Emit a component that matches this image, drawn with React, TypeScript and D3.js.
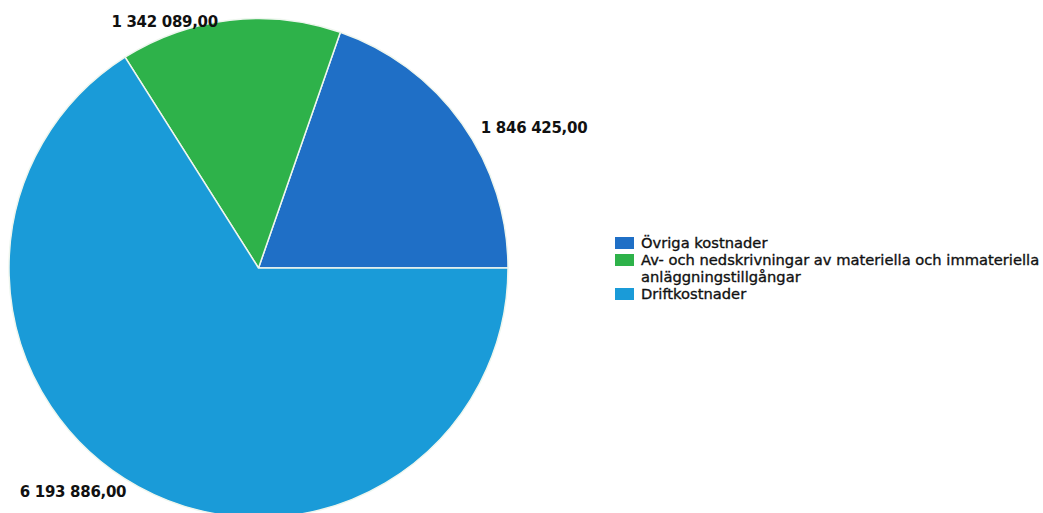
import React from "react";
import * as d3 from "d3";

const categories = [
  "Övriga kostnader",
  "Av- och nedskrivningar av materiella och immateriella anläggningstillgångar",
  "Driftkostnader",
];
const values = [1846425, 1342089, 6193886];
const valueLabels = ["1 846 425,00", "1 342 089,00", "6 193 886,00"];
const legendLines = [
  ["Övriga kostnader"],
  ["Av- och nedskrivningar av materiella och immateriella", "anläggningstillgångar"],
  ["Driftkostnader"],
];
const colors = ["#1f6fc6", "#2eb24a", "#1a9bd8"];

const W = 1043;
const H = 513;
const cx = 258.5;
const cy = 268;
const R = 249.5;

export default function App() {
  const data = categories.map((c, i) => ({ c, v: values[i], i }));
  const pie = d3
    .pie<any>()
    .value((d) => d.v)
    .sort(null)
    .startAngle(Math.PI / 2)
    .endAngle(Math.PI / 2 - 2 * Math.PI);
  const arcs = pie(data);
  const arc = d3.arc<any>().innerRadius(0).outerRadius(R);

  const font = "'DejaVu Sans', Verdana, sans-serif";

  let legendRow = 0;
  const rowH = 17;
  const legendTop = 248;

  return (
    <svg
      width={W}
      height={H}
      style={{ position: "absolute", left: 0, top: 0, background: "#fff" }}
    >
      <g transform={`translate(${cx},${cy})`}>
        {arcs.map((a, i) => (
          <path
            key={i}
            d={arc(a) || ""}
            fill={colors[i]}
            stroke="#eef6ee"
            strokeWidth={1.5}
            strokeLinejoin="round"
          />
        ))}
        {arcs.map((a, i) => {
          const mid = (a.startAngle + a.endAngle) / 2;
          const px = Math.sin(mid) * R;
          const py = -Math.cos(mid) * R;
          const right = px > 0;
          return (
            <text
              key={"l" + i}
              x={right ? px + 19 : px - 12}
              y={py + (i === 1 ? 7 : 10)}
              textAnchor={right ? "start" : "end"}
              fontFamily={font}
              fontWeight="bold"
              fontSize={15}
              letterSpacing={-0.3}
              fill="#111"
            >
              {valueLabels[i]}
            </text>
          );
        })}
      </g>
      <g>
        {legendLines.map((lines, i) => {
          const y0 = legendTop + legendRow * rowH;
          legendRow += lines.length;
          return (
            <g key={"lg" + i}>
              <rect x={615} y={y0 - 11} width={19} height={12} fill={colors[i]} />
              {lines.map((t, j) => (
                <text
                  key={j}
                  x={641}
                  y={y0 + j * rowH}
                  fontFamily={font}
                  fontSize={14.7}
                  fill="#111"
                  stroke="#111"
                  strokeWidth={0.35}
                >
                  {t}
                </text>
              ))}
            </g>
          );
        })}
      </g>
    </svg>
  );
}
